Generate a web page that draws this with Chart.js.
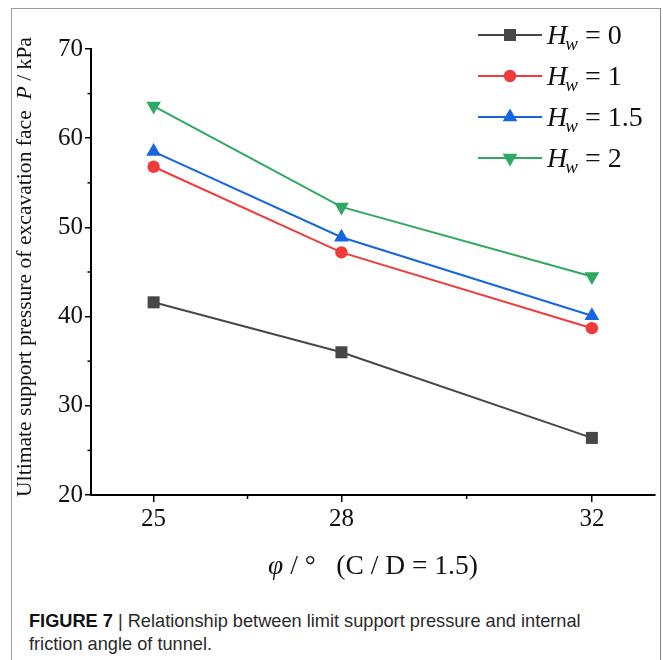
<!DOCTYPE html>
<html>
<head>
<meta charset="utf-8">
<script src="https://cdn.jsdelivr.net/npm/chart.js@4.4.1/dist/chart.umd.min.js"></script>
<style>
  html, body { margin: 0; padding: 0; background: #fff; }
  body { width: 663px; height: 660px; position: relative; overflow: hidden; }
  #frame { position: absolute; left: 11px; top: 8px; width: 648px; height: 660px;
           border-left: 1.5px solid #9a9a9a; border-top: 1px solid #9a9a9a; border-right: 1.5px solid #8a8a8a; }
  #wrap { position: absolute; left: 0; top: 0; width: 663px; height: 600px; }
  #caption { position: absolute; left: 29px; top: 610px; width: 630px;
             font-family: "Liberation Sans", Arial, sans-serif; font-size: 18.2px; line-height: 23px; color: #2a2a2a; }
  #caption b { font-weight: bold; color: #111; }
</style>
</head>
<body>
<div id="frame"></div>
<div id="wrap"><canvas id="c" width="663" height="600"></canvas></div>
<div id="caption"><b>FIGURE 7</b> | Relationship between limit support pressure and internal<br>friction angle of tunnel.</div>
<script>
// ---- data ----
const phi = [25, 28, 32];
const hwValues = ['0', '1', '1.5', '2'];
const hw0 = [41.6, 36.0, 26.4];
const hw1 = [56.8, 47.2, 38.7];
const hw15 = [58.5, 48.9, 40.1];
const hw2 = [63.6, 52.3, 44.5];
const xMajorTicks = [25, 28, 32];
const xMinorTicks = [26.5, 30];
const yMajorTicks = [20, 30, 40, 50, 60, 70];
const yMinorTicks = [25, 35, 45, 55, 65];
const yTitle = 'Ultimate support pressure of excavation face';
const yTitleVar = 'P';
const yTitleUnit = ' / kPa';

const colors = ['#474747', '#ef3b3b', '#1666df', '#2ea862'];
const styles = ['rect', 'circle', 'triangle', 'triangle'];
const rotations = [0, 0, 0, 180];
const radii = [8.5, 6.2, 8.5, 8.5];
const series = [hw0, hw1, hw15, hw2];

const datasets = series.map((s, i) => ({
  label: 'Hw = ' + hwValues[i],
  data: s.map((v, j) => ({ x: phi[j], y: v })),
  borderColor: colors[i],
  backgroundColor: colors[i],
  borderWidth: 2,
  pointStyle: styles[i],
  pointRotation: rotations[i],
  pointRadius: radii[i],
  pointBorderWidth: 0,
  pointBackgroundColor: colors[i],
  tension: 0,
  clip: false
}));

const SERIF = '"Liberation Serif", "Times New Roman", serif';

const extras = {
  id: 'extras',
  afterDraw(chart) {
    const ctx = chart.ctx;
    const xs = chart.scales.x, ys = chart.scales.y;
    ctx.save();
    // minor ticks
    ctx.strokeStyle = '#000';
    ctx.lineWidth = 1.5;
    xMinorTicks.forEach(v => {
      const px = xs.getPixelForValue(v);
      ctx.beginPath(); ctx.moveTo(px, ys.bottom); ctx.lineTo(px, ys.bottom + 4); ctx.stroke();
    });
    yMinorTicks.forEach(v => {
      const py = ys.getPixelForValue(v);
      ctx.beginPath(); ctx.moveTo(xs.left, py); ctx.lineTo(xs.left - 3.5, py); ctx.stroke();
    });

    // x title
    ctx.fillStyle = '#111';
    ctx.textBaseline = 'alphabetic';
    ctx.textAlign = 'left';
    const xt1 = 'φ', xt2 = ' / °   (C / D = 1.5)';
    const XF = 27.5;
    ctx.font = 'italic ' + XF + 'px ' + SERIF;
    const w1 = ctx.measureText(xt1).width;
    ctx.font = XF + 'px ' + SERIF;
    const w2 = ctx.measureText(xt2).width;
    const cx = 373;
    let sx = cx - (w1 + w2) / 2;
    const by = 574;
    ctx.font = 'italic ' + XF + 'px ' + SERIF;
    ctx.fillText(xt1, sx, by);
    ctx.font = XF + 'px ' + SERIF;
    ctx.fillText(xt2, sx + w1, by);

    // y title (rotated)
    ctx.save();
    const ty = 267, tx = 31;
    const YF = 21.6;
    ctx.translate(tx, ty);
    ctx.rotate(-Math.PI / 2);
    ctx.font = YF + 'px ' + SERIF;
    const a = yTitle + '  ';
    const wa = ctx.measureText(a).width;
    ctx.font = 'italic ' + YF + 'px ' + SERIF;
    const wb = ctx.measureText(yTitleVar).width;
    ctx.font = YF + 'px ' + SERIF;
    const wc = ctx.measureText(yTitleUnit).width;
    let s0 = -(wa + wb + wc) / 2;
    ctx.fillText(a, s0, 0);
    ctx.font = 'italic ' + YF + 'px ' + SERIF;
    ctx.fillText(yTitleVar, s0 + wa, 0);
    ctx.font = YF + 'px ' + SERIF;
    ctx.fillText(yTitleUnit, s0 + wa + wb, 0);
    ctx.restore();

    // legend
    const rowsY = [35, 76, 117, 158];
    chart.data.datasets.forEach((ds, i) => {
      const y = rowsY[i];
      ctx.strokeStyle = ds.borderColor;
      ctx.lineWidth = 2;
      ctx.beginPath(); ctx.moveTo(478, y); ctx.lineTo(542, y); ctx.stroke();
      ctx.fillStyle = ds.backgroundColor;
      Chart.helpers.drawPoint(ctx, { pointStyle: ds.pointStyle, rotation: ds.pointRotation, radius: ds.pointRadius, borderWidth: 0 }, 510, y);
      ctx.fillStyle = '#111';
      let lx = 547;
      const base = y + 9;
      ctx.font = 'italic 28px ' + SERIF;
      ctx.fillText('H', lx, base);
      lx += ctx.measureText('H').width - 2;
      ctx.font = 'italic 19px ' + SERIF;
      ctx.fillText('w', lx, base + 6);
      lx += ctx.measureText('w').width;
      ctx.font = '28px ' + SERIF;
      ctx.fillText(' = ' + hwValues[i], lx, base);
    });
    ctx.restore();
  }
};

new Chart(document.getElementById('c'), {
  type: 'line',
  data: { datasets },
  options: {
    responsive: false,
    animation: false,
    events: [],
    layout: { padding: { top: 49, right: 4, left: 0, bottom: 0 } },
    plugins: { legend: { display: false }, tooltip: { enabled: false } },
    scales: {
      x: {
        type: 'linear', min: 24, max: 33,
        afterBuildTicks: s => { s.ticks = xMajorTicks.map(v => ({ value: v })); },
        afterFit: s => { s.height = 105; },
        grid: { drawOnChartArea: false, drawTicks: true, tickLength: 7, tickColor: '#000', lineWidth: 1.5 },
        border: { color: '#000', width: 2 },
        ticks: { color: '#111', font: { family: SERIF, size: 25 }, padding: 2, maxRotation: 0, autoSkip: false },
        title: { display: false }
      },
      y: {
        type: 'linear', min: 20, max: 70,
        afterBuildTicks: s => { s.ticks = yMajorTicks.map(v => ({ value: v })); },
        afterFit: s => { s.width = 91; },
        grid: { drawOnChartArea: false, drawTicks: true, tickLength: 6, tickColor: '#000', lineWidth: 1.5 },
        border: { color: '#000', width: 2 },
        ticks: { color: '#111', font: { family: SERIF, size: 25 }, padding: 2, autoSkip: false },
        title: { display: false }
      }
    }
  },
  plugins: [extras]
});
</script>
</body>
</html>
